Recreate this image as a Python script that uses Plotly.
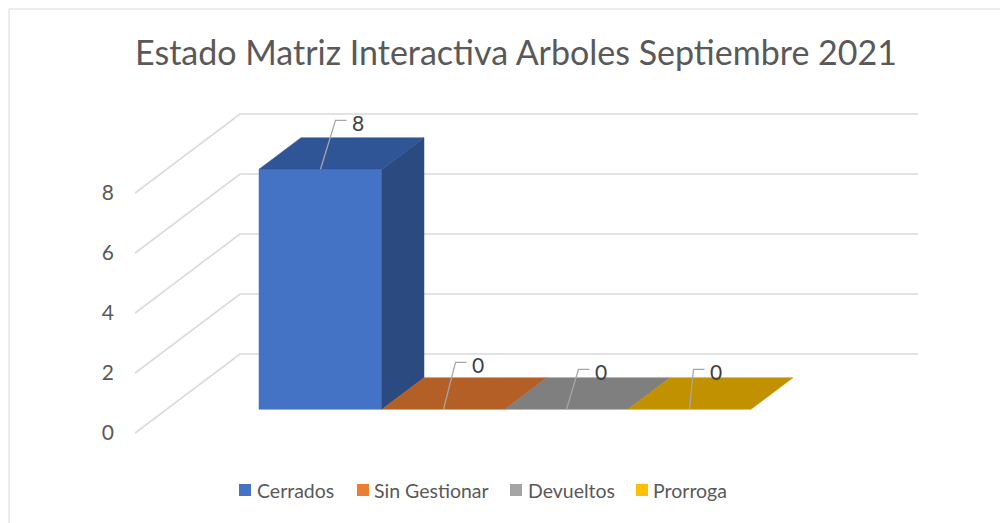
import plotly.graph_objects as go

# ---------------- data ----------------
categories = ["Cerrados", "Sin Gestionar", "Devueltos", "Prorroga"]
values = [8, 0, 0, 0]
y_ticks = [0, 2, 4, 6, 8]
title_text = "Estado Matriz Interactiva Arboles Septiembre 2021"

# ---------------- styles ----------------
base_colors = ["#4472C4", "#ED7D31", "#A5A5A5", "#FFC000"]
top_colors = ["#2F5597", "#B45F25", "#7F7F7F", "#C29100"]
side_colors = ["#2A4A80", "#9A511F", "#6E6E6E", "#A67C00"]
FONT = "Lato"
GRID = "#D9D9D9"
TXT = "#595959"

OFF = 8                     # page body margin
W, H = 1008 - OFF, 523 - OFF

# page-pixel layout reference points
PLOT_L, PLOT_R, PLOT_T, PLOT_B = 135, 918, 100, 440
FRONT_ZERO_Y = 433          # page y of value 0 at front plane

PX_U = 123.0   # px per category unit
PX_V = 30.0    # px per value unit

# oblique projection of depth z (0 = front, 1 = back wall)
DX = 105.0 / PX_U
DY = 79.0 / PX_V
Z0, Z1 = 0.3, 0.7          # bar depth span
HALF = 0.5                 # half bar width (category units)
U_LEFT, U_RIGHT = -1.252, 4.26

# label leader offsets (px)
lab_dx = [15, 12, 12, 4]
lab_dy = [49, 47, 40, 40]
LEAD_H = 11

# legend layout (page px): square left, text left
leg_sq_x = [239, 357, 510, 636]
leg_tx_x = [255, 372, 526, 651]
LEG_Y = 490
SQ = 12


def P(u, v, z):
    return u + DX * z, v + DY * z


def poly(points):
    xs, ys = [], []
    for p in points + [points[0]]:
        x, y = P(*p)
        xs.append(x)
        ys.append(y)
    return xs, ys


fig = go.Figure()

# gridlines (side wall + back wall)
gx, gy = [], []
for t in y_ticks:
    for p in [(U_LEFT, t, 0), (U_LEFT, t, 1), (U_RIGHT, t, 1)]:
        x, y = P(*p)
        gx.append(x)
        gy.append(y)
    gx.append(None)
    gy.append(None)
fig.add_trace(go.Scatter(x=gx, y=gy, mode="lines", line=dict(color=GRID, width=1.6),
                         showlegend=False, hoverinfo="skip"))

# 3D bars
for i, (cat, v) in enumerate(zip(categories, values)):
    u0, u1 = i - HALF, i + HALF
    faces = []
    if v > 0:
        faces.append((poly([(u0, 0, Z0), (u1, 0, Z0), (u1, v, Z0), (u0, v, Z0)]), base_colors[i]))
        faces.append((poly([(u1, 0, Z0), (u1, 0, Z1), (u1, v, Z1), (u1, v, Z0)]), side_colors[i]))
    faces.append((poly([(u0, v, Z0), (u1, v, Z0), (u1, v, Z1), (u0, v, Z1)]), top_colors[i]))
    for (xs, ys), col in faces:
        fig.add_trace(go.Scatter(x=xs, y=ys, mode="lines", fill="toself", fillcolor=col,
                                 line=dict(color=col, width=0.5), showlegend=False,
                                 hoverinfo="skip", name=cat))

# data labels with leader lines
for i, v in enumerate(values):
    ax, ay = P(i, v, Z0)
    bx, by = ax + lab_dx[i] / PX_U, ay + lab_dy[i] / PX_V
    cx = bx + LEAD_H / PX_U
    fig.add_trace(go.Scatter(x=[ax, bx, cx], y=[ay, by, by], mode="lines",
                             line=dict(color="#A6A6A6", width=1.3),
                             showlegend=False, hoverinfo="skip"))
    fig.add_annotation(x=cx + 3 / PX_U, y=by - 2 / PX_V, xref="x", yref="y",
                       text=str(v), showarrow=False, xanchor="left", yanchor="middle",
                       font=dict(family=FONT, size=21, color="#404040"))

# figure-pixel helpers
L, R = PLOT_L - OFF, W - (PLOT_R - OFF)
T, B = PLOT_T - OFF, H - (PLOT_B - OFF)
pw, ph = W - L - R, H - T - B


def px(xpage):
    return (xpage - PLOT_L) / pw


def py(ypage):
    return (PLOT_B - ypage) / ph


# legend (drawn manually for exact spacing)
for cat, col, sx, tx in zip(categories, base_colors, leg_sq_x, leg_tx_x):
    fig.add_shape(type="rect", xref="paper", yref="paper",
                  x0=px(sx), x1=px(sx + SQ), y0=py(LEG_Y + SQ / 2), y1=py(LEG_Y - SQ / 2),
                  line=dict(width=0), fillcolor=col)
    fig.add_annotation(x=px(tx), y=py(LEG_Y), xref="paper", yref="paper", text=cat,
                       showarrow=False, xanchor="left", yanchor="middle",
                       font=dict(family=FONT, size=19.5, color=TXT))

# chart border
fig.add_shape(type="rect", xref="paper", yref="paper",
              x0=px(OFF + 1), x1=px(1020), y0=py(540), y1=py(OFF + 1),
              line=dict(color="#D9D9D9", width=1), fillcolor="rgba(0,0,0,0)", layer="below")

fig.update_layout(
    width=W, height=H,
    margin=dict(l=L, r=R, t=T, b=B),
    paper_bgcolor="white", plot_bgcolor="white",
    title=dict(text=title_text, x=px(516), xref="paper", xanchor="center",
               y=1 - (53 - OFF) / H, yref="container", yanchor="middle",
               font=dict(family=FONT, size=34, color=TXT)),
    xaxis=dict(range=[U_LEFT, U_LEFT + pw / PX_U], visible=False, fixedrange=True),
    yaxis=dict(range=[-(PLOT_B - FRONT_ZERO_Y) / PX_V, (FRONT_ZERO_Y - PLOT_T) / PX_V],
               tickvals=y_ticks, showgrid=False, zeroline=False, showline=False, ticks="",
               ticklabelstandoff=20,
               tickfont=dict(family=FONT, size=21, color=TXT), fixedrange=True),
    showlegend=False,
)

fig.write_html("out.html")
